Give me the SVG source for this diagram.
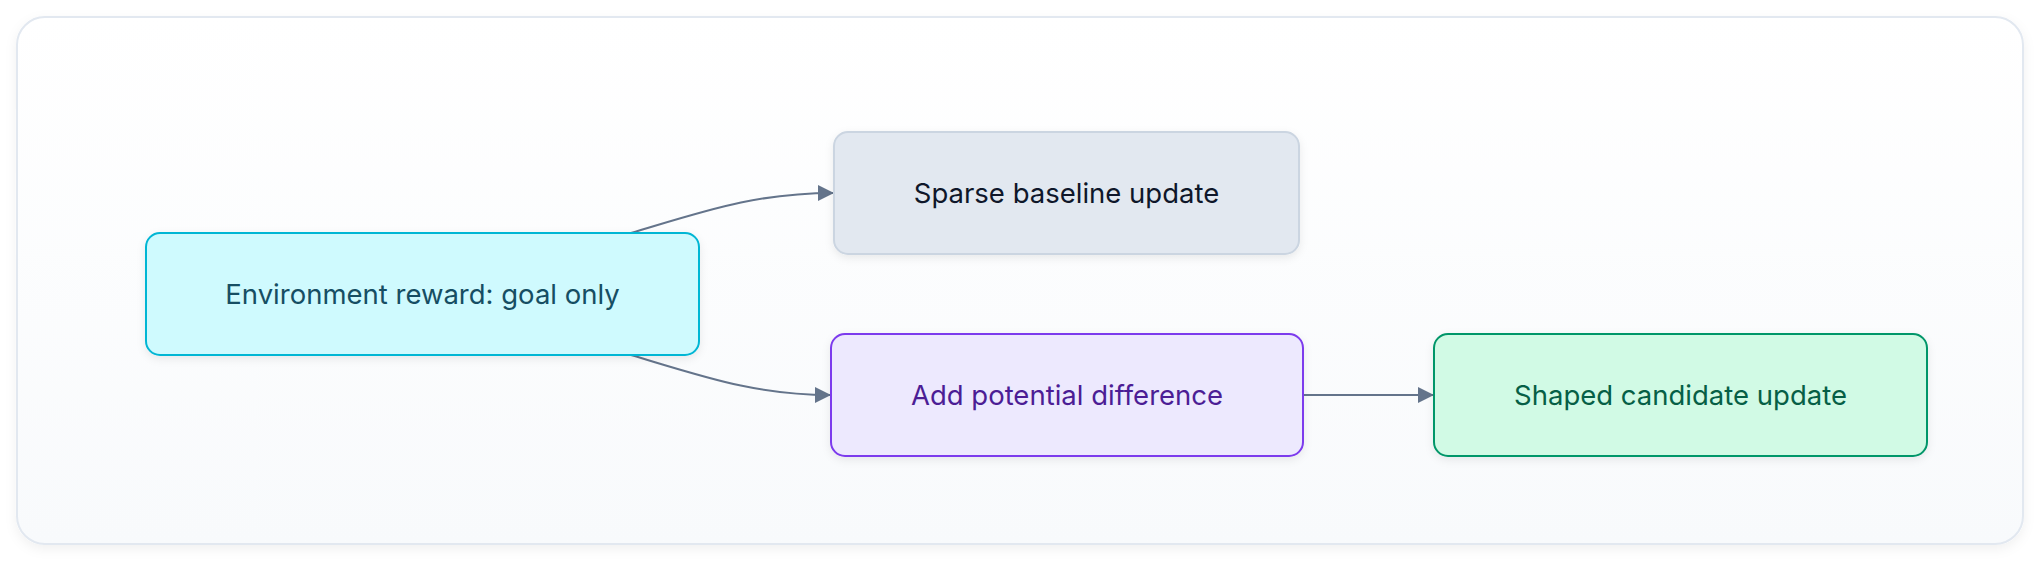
<svg xmlns="http://www.w3.org/2000/svg" width="2040" height="562" viewBox="0 0 2040 562">
<defs>
<linearGradient id="bg" x1="0" y1="0" x2="0" y2="1">
<stop offset="0" stop-color="#ffffff"/>
<stop offset="1" stop-color="#f8fafc"/>
</linearGradient>
<filter id="frameShadow" x="-5%" y="-10%" width="110%" height="125%">
<feDropShadow dx="0" dy="4" stdDeviation="6" flood-color="#0f172a" flood-opacity="0.06"/>
</filter>
<filter id="nodeShadow" x="-10%" y="-20%" width="120%" height="150%">
<feDropShadow dx="0" dy="3" stdDeviation="4" flood-color="#0f172a" flood-opacity="0.08"/>
</filter>
<marker id="arrow" viewBox="0 0 16 16" refX="16" refY="8" markerWidth="16" markerHeight="16" markerUnits="userSpaceOnUse" orient="auto">
<path d="M0,0 L16,8 L0,16 Z" fill="#64748b"/>
</marker>
<style>
.label{font-family:Inter,"Noto Sans","Liberation Sans",sans-serif;font-size:27.5px;text-anchor:middle;dominant-baseline:central}
.node rect{stroke-width:2}
.edge{fill:none;stroke:#64748b;stroke-width:2}
</style>
</defs>
<rect x="17" y="17" width="2006" height="527" rx="28" fill="url(#bg)" stroke="#e2e8f0" stroke-width="2" filter="url(#frameShadow)"/>
<g id="connectors">
<path class="edge" d="M631,233 C705,211 755,193 834,193" marker-end="url(#arrow)"/>
<path class="edge" d="M631,355 C705,377 755,395 831,395" marker-end="url(#arrow)"/>
<path class="edge" d="M1303,395 L1434,395" marker-end="url(#arrow)"/>
</g>
<g id="node-env" class="node">
<rect x="146" y="233" width="553" height="122" rx="14" fill="#cffafe" stroke="#06b6d4" filter="url(#nodeShadow)"/>
<text class="label" x="422.5" y="294" fill="#164e63">Environment reward: goal only</text>
</g>
<g id="node-sparse" class="node">
<rect x="834" y="132" width="465" height="122" rx="14" fill="#e2e8f0" stroke="#cbd5e1" filter="url(#nodeShadow)"/>
<text class="label" x="1066.5" y="193" fill="#0f172a">Sparse baseline update</text>
</g>
<g id="node-add" class="node">
<rect x="831" y="334" width="472" height="122" rx="14" fill="#ede9fe" stroke="#7c3aed" filter="url(#nodeShadow)"/>
<text class="label" x="1067" y="395" fill="#4c1d95">Add potential difference</text>
</g>
<g id="node-shaped" class="node">
<rect x="1434" y="334" width="493" height="122" rx="14" fill="#d1fae5" stroke="#059669" filter="url(#nodeShadow)"/>
<text class="label" x="1680.5" y="395" fill="#065f46">Shaped candidate update</text>
</g>
</svg>
